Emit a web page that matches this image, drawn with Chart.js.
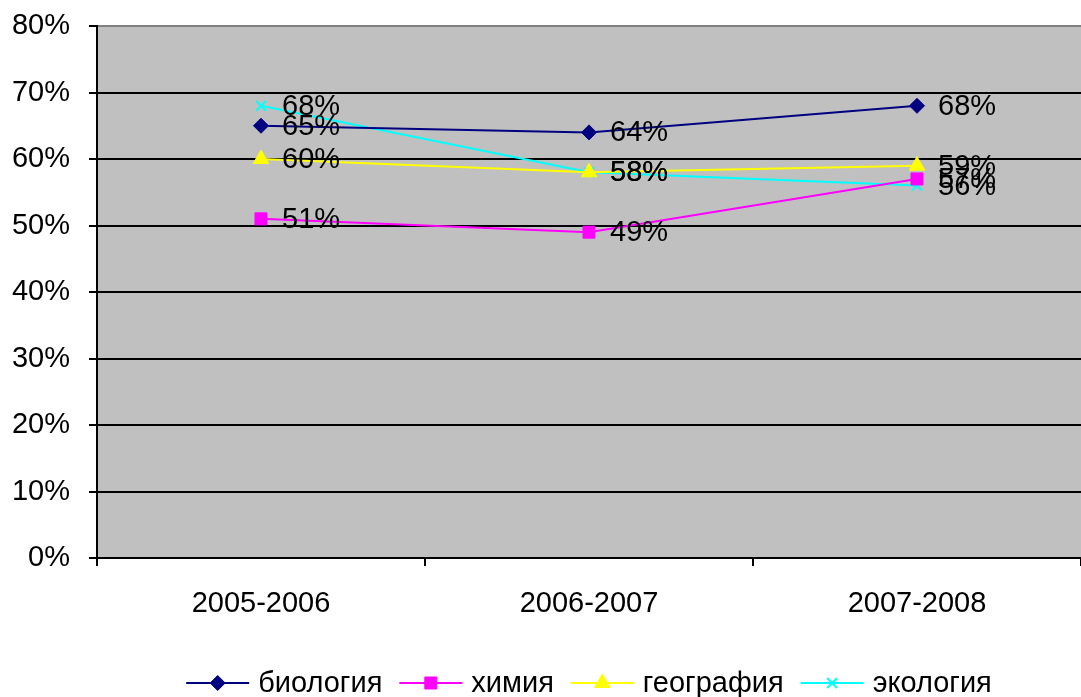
<!DOCTYPE html>
<html>
<head>
<meta charset="utf-8">
<script src="https://cdn.jsdelivr.net/npm/chart.js@4"></script>
<style>
  html, body { margin: 0; padding: 0; background: #fff; }
  #wrap { width: 1081px; height: 697px; }
</style>
</head>
<body>
<div id="wrap"><canvas id="chart" width="1081" height="697"></canvas></div>
<script>
const years = ['2005-2006', '2006-2007', '2007-2008'];
const biology = [65, 64, 68];
const chemistry = [51, 49, 57];
const geography = [60, 58, 59];
const ecology = [68, 58, 56];
const yTicks = [0, 10, 20, 30, 40, 50, 60, 70, 80];

const FONT = '"Liberation Sans", Arial, sans-serif';
const FSIZE = 29;
const OVERHANG = -8; // plot runs a little past the right edge, as in the original

// grey plot background
const plotBg = {
  id: 'plotBg',
  beforeDraw(chart) {
    const a = chart.chartArea, ctx = chart.ctx;
    ctx.save();
    ctx.fillStyle = '#c0c0c0';
    ctx.fillRect(a.left, a.top, a.right - a.left, a.bottom - a.top);
    ctx.restore();
  }
};

// value labels to the right of each point
const valueLabels = {
  id: 'valueLabels',
  afterDatasetsDraw(chart) {
    const ctx = chart.ctx;
    ctx.save();
    ctx.font = FSIZE + 'px ' + FONT;
    ctx.fillStyle = '#000';
    ctx.textAlign = 'left';
    ctx.textBaseline = 'middle';
    chart.data.datasets.forEach((ds, i) => {
      chart.getDatasetMeta(i).data.forEach((pt, j) => {
        ctx.fillText(ds.data[j] + '%', pt.x + 21, pt.y + 1);
      });
    });
    ctx.restore();
  }
};

// excel-like legend: line with marker, then the name
const lineLegend = {
  id: 'lineLegend',
  afterDraw(chart) {
    const ctx = chart.ctx;
    const a = chart.chartArea;
    ctx.save();
    ctx.font = FSIZE + 'px ' + FONT;
    ctx.textBaseline = 'middle';
    const lineW = 63, gapText = 9, gapItem = 17;
    const items = chart.data.datasets.map(ds => ({ds, w: lineW + gapText + ctx.measureText(ds.label).width}));
    const total = items.reduce((s, it) => s + it.w, 0) + gapItem * (items.length - 1);
    let x = (a.left + chart.width) / 2 - total / 2;
    const y = 683;
    items.forEach(it => {
      const ds = it.ds;
      ctx.strokeStyle = ds.borderColor;
      ctx.lineWidth = 2;
      ctx.beginPath();
      ctx.moveTo(x, y);
      ctx.lineTo(x + lineW, y);
      ctx.stroke();
      ctx.fillStyle = ds.borderColor;
      ctx.strokeStyle = ds.borderColor;
      ctx.lineWidth = ds.pointBorderWidth;
      Chart.helpers.drawPoint(ctx, {
        pointStyle: ds.pointStyle,
        rotation: 0,
        radius: ds.pointRadius,
        borderWidth: ds.pointBorderWidth
      }, x + lineW / 2, y);
      ctx.fillStyle = '#000';
      ctx.fillText(ds.label, x + lineW + gapText, y + 1);
      x += it.w + gapItem;
    });
    ctx.restore();
  }
};

function series(label, data, color, style, radius) {
  return {
    label: label,
    data: data,
    borderColor: color,
    backgroundColor: color,
    pointBackgroundColor: color,
    pointBorderColor: color,
    borderWidth: 2,
    pointStyle: style,
    pointRadius: radius,
    pointHoverRadius: radius,
    pointBorderWidth: style === 'crossRot' ? 2 : 1,
    tension: 0,
    clip: false
  };
}

new Chart(document.getElementById('chart').getContext('2d'), {
  type: 'line',
  data: {
    labels: years,
    datasets: [
      series('биология', biology, '#000080', 'rectRot', 7.5),
      series('химия', chemistry, '#ff00ff', 'rect', 8.5),
      series('география', geography, '#ffff00', 'triangle', 9),
      series('экология', ecology, '#00ffff', 'crossRot', 7)
    ]
  },
  options: {
    responsive: false,
    animation: false,
    layout: { autoPadding: false, padding: { top: 26, right: OVERHANG, left: 0, bottom: 0 } },
    plugins: {
      legend: { display: false },
      tooltip: { enabled: false }
    },
    scales: {
      x: {
        offset: true,
        grid: { offset: true, drawOnChartArea: false, color: '#000', tickLength: 8, lineWidth: 2 },
        border: { color: '#000', width: 2 },
        ticks: { font: { size: FSIZE, family: FONT }, color: '#000', padding: 21, maxRotation: 0 },
        afterFit(s) { s.height = 139; s.paddingLeft = 0; s.paddingRight = OVERHANG; }
      },
      y: {
        min: 0,
        max: 80,
        afterBuildTicks(s) { s.ticks = yTicks.map(v => ({value: v})); },
        grid: {
          color: ctx => ctx.tick && ctx.tick.value === 80 ? '#808080' : '#000',
          tickColor: '#000',
          tickLength: 8,
          lineWidth: 2
        },
        border: { color: '#000', width: 2 },
        ticks: {
          font: { size: FSIZE, family: FONT },
          color: '#000',
          padding: 19,
          callback: v => v + '%'
        },
        afterFit(s) { s.width = 97; s.paddingTop = 0; s.paddingBottom = 0; s.paddingRight = OVERHANG; }
      }
    }
  },
  plugins: [plotBg, valueLabels, lineLegend]
});
</script>
</body>
</html>
